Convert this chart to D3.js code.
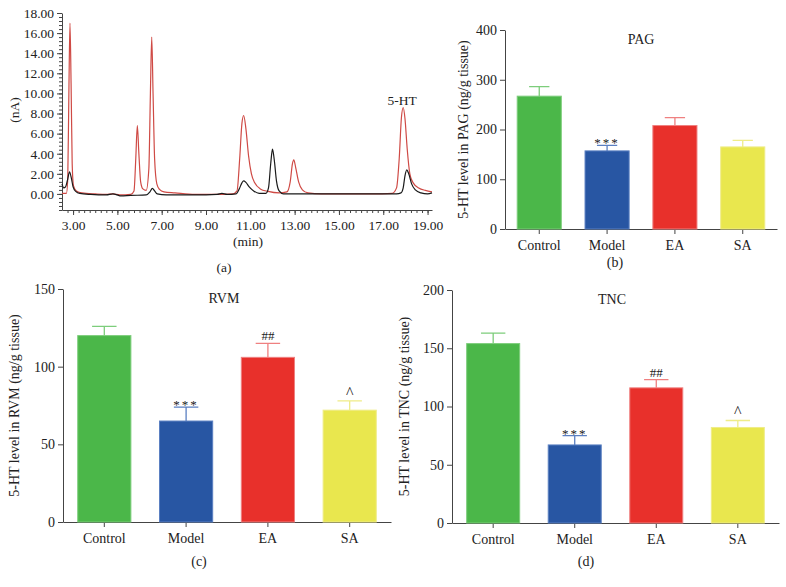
<!DOCTYPE html>
<html>
<head>
<meta charset="utf-8">
<script src="https://cdn.jsdelivr.net/npm/d3@7"></script>
<style>
  body { margin: 0; background: #fff; }
  svg text { font-family: "Liberation Serif", "DejaVu Serif", serif; fill: #222; }
  .axis path, .axis line { stroke: #444; }
</style>
</head>
<body>
<div id="viz-container"></div>
<script>
// chromatogram traces: [minutes, nA]
const redTrace = [
  [2.5, 0.05], [2.7, 0.05], [2.76, 1.5], [2.81, 10], [2.86, 17.0], [2.91, 11], [2.96, 3.0], [3.02, 0.8],
  [3.15, 0.3], [3.4, 0.1], [4.0, 0.0], [4.5, -0.05], [4.8, 0.0], [5.1, -0.1], [5.6, -0.05],
  [5.75, 0.3], [5.83, 3.5], [5.9, 6.8], [5.97, 4.0], [6.05, 1.2], [6.15, 0.5], [6.3, 0.35],
  [6.42, 2.5], [6.49, 10], [6.55, 15.6], [6.61, 10], [6.68, 3.5], [6.78, 1.0], [6.9, 0.45],
  [7.1, 0.2], [7.6, 0.1], [8.5, -0.05], [9.5, -0.05], [10.2, 0.0], [10.4, 0.3], [10.52, 3.5],
  [10.62, 7.0], [10.7, 7.8], [10.8, 6.5], [10.92, 3.8], [11.05, 2.0], [11.2, 1.1], [11.45, 0.5],
  [11.8, 0.25], [12.3, 0.1], [12.65, 0.2], [12.8, 1.2], [12.9, 3.0], [12.96, 3.4], [13.05, 2.6],
  [13.18, 1.2], [13.35, 0.4], [13.6, 0.1], [14.2, 0.0], [16.5, 0.0], [17.4, 0.05], [17.6, 0.6],
  [17.72, 3.5], [17.82, 7.6], [17.9, 8.6], [17.98, 7.5], [18.08, 4.5], [18.2, 2.0], [18.35, 1.1],
  [18.6, 0.6], [18.9, 0.35], [19.2, 0.2]
];
const blackTrace = [
  [2.5, 1.0], [2.58, 0.6], [2.66, 0.7], [2.76, 1.5], [2.84, 2.2], [2.92, 1.6], [3.0, 0.7],
  [3.12, 0.25], [3.3, 0.05], [3.8, -0.05], [4.5, -0.1], [4.8, 0.0], [5.0, -0.1], [5.15, -0.2],
  [5.6, -0.15], [6.3, -0.1], [6.47, 0.2], [6.58, 0.55], [6.68, 0.3], [6.8, 0.0], [7.2, -0.1],
  [8.5, -0.1], [9.5, -0.05], [9.72, 0.05], [9.95, -0.05], [10.35, 0.0], [10.5, 0.5], [10.62, 1.1],
  [10.7, 1.3], [10.8, 1.15], [10.95, 0.7], [11.15, 0.3], [11.4, 0.05], [11.7, 0.05], [11.82, 0.6],
  [11.92, 3.0], [12.0, 4.45], [12.08, 3.4], [12.18, 1.3], [12.3, 0.3], [12.5, 0.0], [13.5, 0.0],
  [17.6, 0.0], [17.8, 0.1], [17.9, 0.6], [17.98, 1.8], [18.06, 2.4], [18.15, 2.0], [18.28, 1.0],
  [18.45, 0.4], [18.7, 0.1], [19.0, 0.0], [19.2, 0.1]
];
const chromXTicks = [3, 5, 7, 9, 11, 13, 15, 17, 19];
const chromYTicks = [0, 2, 4, 6, 8, 10, 12, 14, 16, 18];

// bar panels
const groups = ["Control", "Model", "EA", "SA"];
const pagMean = [267, 157, 208, 165];
const pagSem = [19, 11, 16, 13];
const pagMarks = ["", "***", "", ""];
const rvmMean = [120, 65, 106, 72];
const rvmSem = [6, 9, 9, 6];
const rvmMarks = ["", "***", "##", "^"];
const tncMean = [154, 67, 116, 82];
const tncSem = [9, 8, 7, 6];
const tncMarks = ["", "***", "##", "^"];

const barFill = ["#4bb749", "#2856a3", "#e8302b", "#e9e74e"];
const barEdge = ["#7dcd7b", "#5b80c2", "#ef8080", "#efec88"];

const width = 786, height = 587;
const svg = d3.select("#viz-container").append("svg")
  .attr("width", width).attr("height", height)
  .attr("viewBox", [0, 0, width, height]);

// ---------- (a) chromatogram ----------
const cx = d3.scaleLinear().domain([2.5, 19.2]).range([62, 432]);
const cy = d3.scaleLinear().domain([-1.6, 18]).range([210, 13]);
const fsA = 13.5;

const chrom = svg.append("g");
// minor ticks first, then labelled ones
chrom.append("g").attr("class", "axis")
  .attr("transform", `translate(0,${cy(-1.6)})`)
  .call(d3.axisBottom(cx).tickValues(d3.range(2.75, 19.2, 0.25)).tickSize(3).tickFormat(""))
  .call(g => g.select(".domain").remove());
chrom.append("g").attr("class", "axis")
  .attr("transform", `translate(0,${cy(-1.6)})`)
  .call(d3.axisBottom(cx).tickValues(chromXTicks).tickSize(5).tickSizeOuter(0)
    .tickFormat(d3.format(".2f")))
  .call(g => g.selectAll("text").attr("font-size", fsA).attr("dy", "0.9em"));
chrom.append("g").attr("class", "axis")
  .attr("transform", `translate(${cx(2.5)},0)`)
  .call(d3.axisLeft(cy).tickValues(d3.range(-1.6, 18.01, 0.4)).tickSize(3).tickFormat(""))
  .call(g => g.select(".domain").remove());
chrom.append("g").attr("class", "axis")
  .attr("transform", `translate(${cx(2.5)},0)`)
  .call(d3.axisLeft(cy).tickValues(chromYTicks).tickSize(5).tickSizeOuter(0)
    .tickFormat(d3.format(".2f")))
  .call(g => g.selectAll("text").attr("font-size", fsA));

const line = d3.line().x(d => cx(d[0])).y(d => cy(d[1])).curve(d3.curveMonotoneX);
chrom.append("path").datum(redTrace)
  .attr("d", line).attr("fill", "none").attr("stroke", "#cf4a45").attr("stroke-width", 1.2);
chrom.append("path").datum(blackTrace)
  .attr("d", line).attr("fill", "none").attr("stroke", "#1a1a1a").attr("stroke-width", 1.2);

chrom.append("text").attr("x", cx(17.85)).attr("y", 105)
  .attr("text-anchor", "middle").attr("font-size", fsA).text("5-HT");
chrom.append("text").attr("x", 248).attr("y", 246)
  .attr("text-anchor", "middle").attr("font-size", fsA).text("(min)");
chrom.append("text").attr("transform", "translate(19,110) rotate(-90)")
  .attr("text-anchor", "middle").attr("font-size", fsA).text("(nA)");
chrom.append("text").attr("x", 224).attr("y", 272)
  .attr("text-anchor", "middle").attr("font-size", fsA).text("(a)");

// ---------- bar panels ----------
const fsB = 14;
function barPanel(opt) {
  const g = svg.append("g");
  const x = d3.scaleBand().domain(groups).range([opt.left, opt.right])
    .paddingInner(0.35).paddingOuter(0.18);
  const y = d3.scaleLinear().domain([0, opt.max]).range([opt.bottom, opt.top]);

  g.append("g").attr("class", "axis")
    .attr("transform", `translate(${opt.left},0)`)
    .call(d3.axisLeft(y).tickValues(opt.ticks).tickSize(5).tickSizeOuter(0))
    .call(a => a.selectAll("text").attr("font-size", fsB));
  g.append("g").attr("class", "axis")
    .attr("transform", `translate(0,${opt.bottom})`)
    .call(d3.axisBottom(x).tickSize(5).tickSizeOuter(0))
    .call(a => a.selectAll("text").attr("font-size", fsB).attr("dy", "0.92em"));

  const rows = groups.map((k, i) => ({ k, i, m: opt.mean[i], e: opt.sem[i], mark: opt.marks[i] }));

  // error bars, upper half only
  g.append("g").selectAll("path").data(rows).join("path")
    .attr("d", d => {
      const c = x(d.k) + x.bandwidth() / 2, w = x.bandwidth() * 0.23;
      return `M${c},${y(d.m)}V${y(d.m + d.e)}M${c - w},${y(d.m + d.e)}H${c + w}`;
    })
    .attr("fill", "none").attr("stroke", d => barEdge[d.i]).attr("stroke-width", 1.3);

  g.append("g").selectAll("rect").data(rows).join("rect")
    .attr("x", d => x(d.k)).attr("y", d => y(d.m))
    .attr("width", x.bandwidth()).attr("height", d => y(0) - y(d.m))
    .attr("fill", d => barFill[d.i]).attr("stroke", d => barEdge[d.i]).attr("stroke-width", 1);

  g.append("g").selectAll("text").data(rows.filter(d => d.mark)).join("text")
    .attr("x", d => x(d.k) + x.bandwidth() / 2)
    .attr("y", d => y(d.m + d.e) - (d.mark === "***" ? -2 : 3))
    .attr("text-anchor", "middle")
    .attr("font-size", d => d.mark === "^" ? 16 : 13)
    .attr("letter-spacing", d => d.mark === "***" ? 2 : 0)
    .text(d => d.mark);

  g.append("text").attr("x", opt.titleX).attr("y", opt.top + 14)
    .attr("text-anchor", "middle").attr("font-size", fsB).text(opt.title);
  g.append("text")
    .attr("transform", `translate(${opt.labelX},${(opt.top + opt.bottom) / 2}) rotate(-90)`)
    .attr("text-anchor", "middle").attr("font-size", fsB)
    .text(`5-HT level in ${opt.title} (ng/g tissue)`);
  g.append("text").attr("x", opt.tagX).attr("y", opt.tagY)
    .attr("text-anchor", "middle").attr("font-size", fsB).text(opt.tag);
}

barPanel({ left: 505, right: 777, top: 30, bottom: 229, max: 400, ticks: [0, 100, 200, 300, 400],
  mean: pagMean, sem: pagSem, marks: pagMarks, title: "PAG", titleX: 641, labelX: 468,
  tagX: 615, tagY: 267, tag: "(b)" });
barPanel({ left: 63, right: 391, top: 289, bottom: 522, max: 150, ticks: [0, 50, 100, 150],
  mean: rvmMean, sem: rvmSem, marks: rvmMarks, title: "RVM", titleX: 224, labelX: 19,
  tagX: 199, tagY: 566, tag: "(c)" });
barPanel({ left: 452, right: 779, top: 290, bottom: 523, max: 200, ticks: [0, 50, 100, 150, 200],
  mean: tncMean, sem: tncSem, marks: tncMarks, title: "TNC", titleX: 612, labelX: 409,
  tagX: 586, tagY: 566, tag: "(d)" });
</script>
</body>
</html>
